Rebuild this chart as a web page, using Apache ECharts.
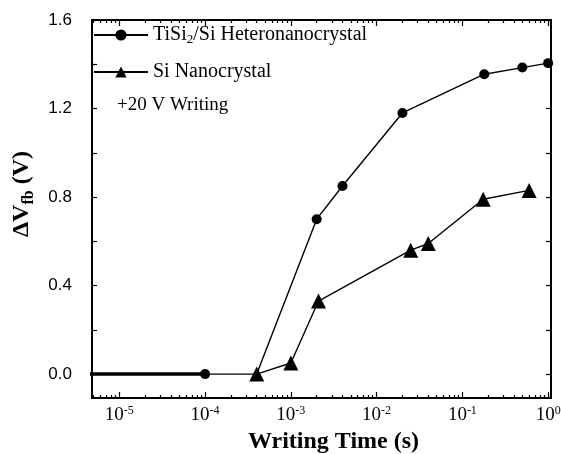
<!DOCTYPE html>
<html>
<head>
<meta charset="UTF-8">
<title>Writing Time</title>
<script type="text/javascript" src="https://cdn.jsdelivr.net/npm/echarts@6/dist/echarts.min.js"></script>
<style>
	html, body { margin: 0; padding: 0; background: #fff; }
	#chart { width: 561px; height: 454px; }
</style>
</head>
<body>
<div id="chart"></div>
<script type="text/javascript">
	// writing time (s) and flat-band voltage shift (V)
	var tiTime  = [1e-6, 1e-4, 4e-4, 2e-3, 4e-3, 2e-2, 0.18, 0.5, 1.0];
	var tiShift = [0, 0, 0, 0.70, 0.85, 1.18, 1.355, 1.385, 1.405];
	var siTime  = [4e-4, 1e-3, 2.1e-3, 2.5e-2, 4e-2, 0.175, 0.6];
	var siShift = [0, 0.05, 0.33, 0.56, 0.59, 0.79, 0.83];
	var baseTime  = [1e-6, 1e-4];
	var baseShift = [0, 0];

	var xMajor = [1e-5, 1e-4, 1e-3, 1e-2, 1e-1, 1];
	var yMajor = [0, 0.4, 0.8, 1.2, 1.6];
	var yTicks = [0, 0.2, 0.4, 0.6, 0.8, 1.0, 1.2, 1.4, 1.6];

	var xMinor = [];
	for (var n = -6; n <= 0; n++) {
		for (var k = 2; k <= 9; k++) {
			xMinor.push(k * Math.pow(10, n));
		}
	}

	function pairs(xs, ys) {
		var out = [];
		for (var i = 0; i < xs.length; i++) out.push([xs[i], ys[i]]);
		return out;
	}

	var serif = 'Liberation Serif';
	var axisColor = '#000';

	function xAx(pos, ticks, len, labels) {
		var ax = {
			type: 'log', logBase: 10, min: 4.8e-6, max: 1.08, position: pos,
			axisLine: { show: true, onZero: false, lineStyle: { color: axisColor, width: 2 } },
			axisTick: { show: true, inside: true, length: len, customValues: ticks, lineStyle: { color: axisColor, width: 1.2 } },
			axisLabel: { show: false },
			splitLine: { show: false }
		};
		if (labels) {
			ax.axisLabel = {
				show: true, customValues: xMajor, margin: 7,
				fontFamily: serif, fontSize: 19, color: '#000',
				formatter: function (v) {
					return '{b|10}{s|' + Math.round(Math.log10(v)) + '}';
				},
				rich: {
					b: { fontFamily: serif, fontSize: 19, lineHeight: 20, color: '#000' },
					s: { fontFamily: serif, fontSize: 12, lineHeight: 10, verticalAlign: 'top', color: '#000' }
				}
			};
			ax.name = 'Writing Time (s)';
			ax.nameLocation = 'middle';
			ax.nameGap = 25;
			ax.nameTextStyle = { fontFamily: serif, fontWeight: 'bold', fontSize: 24, color: '#000', padding: [0, 0, 0, 24] };
		}
		return ax;
	}

	function yAx(pos, labels) {
		var ax = {
			type: 'value', min: -0.108, max: 1.6, position: pos,
			axisLine: { show: true, onZero: false, lineStyle: { color: axisColor, width: 2 } },
			axisTick: { show: true, inside: true, length: 5, customValues: yTicks, lineStyle: { color: axisColor, width: 1.2 } },
			axisLabel: { show: false },
			splitLine: { show: false }
		};
		if (labels) {
			ax.axisLabel = {
				show: true, customValues: yMajor, margin: 20,
				fontFamily: 'Liberation Sans', fontSize: 17, color: '#000',
				formatter: function (v) { return v.toFixed(1); }
			};
			ax.name = '{n|\u0394V}{s|fb}{n| (V)}';
			ax.nameLocation = 'middle';
			ax.nameGap = 55;
			ax.nameTextStyle = {
				padding: [0, 0, 0, 30],
				rich: {
					n: { fontFamily: serif, fontWeight: 'bold', fontSize: 24, lineHeight: 30, color: '#000' },
					s: { fontFamily: serif, fontWeight: 'bold', fontSize: 16, lineHeight: 14, verticalAlign: 'bottom', color: '#000' }
				}
			};
		}
		return ax;
	}

	var chart = echarts.init(document.getElementById('chart'));
	var option = {
		animation: false,
		backgroundColor: '#fff',
		grid: { left: 92, top: 20, right: 10, bottom: 56, containLabel: false, outerBoundsMode: 'none' },
		title: {
			text: '+20 V Writing', left: 112, top: 91,
			textStyle: { fontFamily: serif, fontWeight: 'normal', fontSize: 19, color: '#000' }
		},
		legend: {
			data: ['TiSi2/Si Heteronanocrystal', 'Si Nanocrystal'],
			orient: 'vertical', left: 88, top: 19,
			itemWidth: 54, itemHeight: 14, itemGap: 15,
			textStyle: { fontFamily: serif, fontSize: 20, color: '#000', lineHeight: 22,
				rich: {
					a: { fontFamily: serif, fontSize: 20, lineHeight: 22, color: '#000' },
					s: { fontFamily: serif, fontSize: 13, lineHeight: 12, verticalAlign: 'bottom', color: '#000' }
				}
			},
			formatter: function (name) {
				if (name.indexOf('TiSi2') === 0) return '{a|TiSi}{s|2}{a|' + name.slice(5) + '}';
				return '{a|' + name + '}';
			}
		},
		xAxis: [
			xAx('bottom', xMajor, 6, true),
			xAx('bottom', xMinor, 3, false),
			xAx('top', xMajor, 6, false),
			xAx('top', xMinor, 3, false)
		],
		yAxis: [yAx('left', true), yAx('right', false)],
		series: [
			{
				name: 'baseline', type: 'line', data: pairs(baseTime, baseShift),
				symbol: 'none', lineStyle: { color: '#000', width: 3.5 }, silent: true
			},
			{
				name: 'TiSi2/Si Heteronanocrystal', type: 'line', data: pairs(tiTime, tiShift),
				symbol: 'circle',
				symbolSize: function (v, p) { return (p.dataIndex === 0 || p.dataIndex === 2) ? 0 : 10; },
				itemStyle: { color: '#000' }, lineStyle: { color: '#000', width: 1.4 }
			},
			{
				name: 'Si Nanocrystal', type: 'line', data: pairs(siTime, siShift),
				symbol: 'triangle', symbolSize: 15,
				itemStyle: { color: '#000' }, lineStyle: { color: '#000', width: 1.4 }
			}
		]
	};
	chart.setOption(option);
</script>
</body>
</html>
